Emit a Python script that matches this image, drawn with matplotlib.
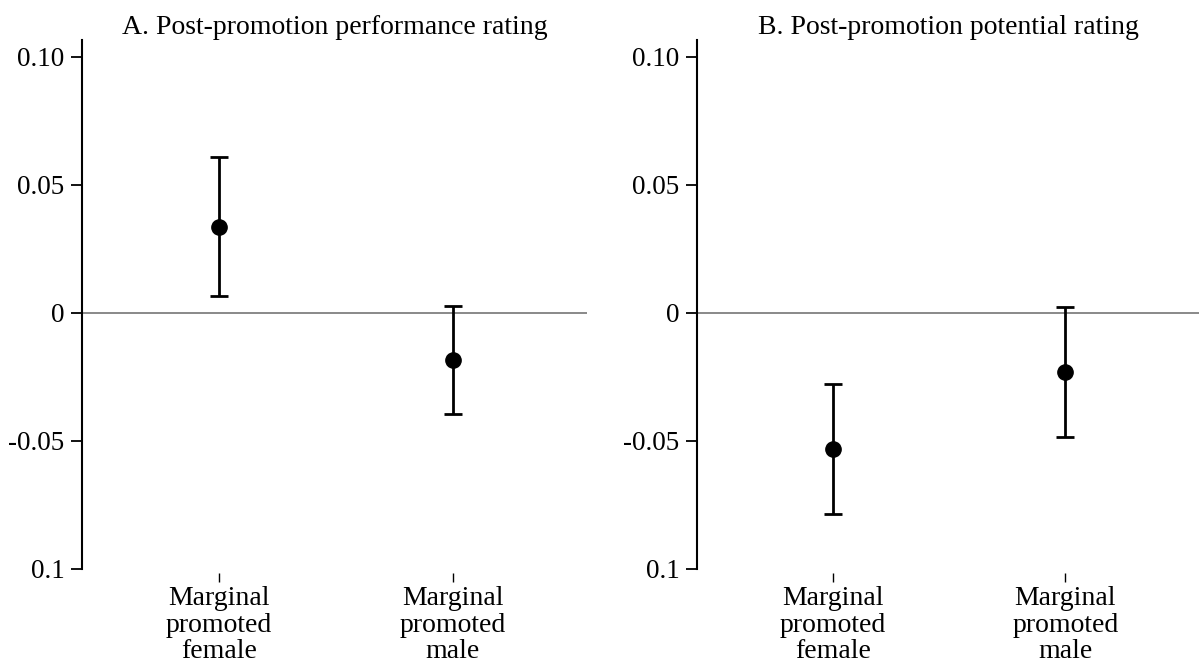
import numpy as np
import matplotlib
matplotlib.use('Agg')
import matplotlib.pyplot as plt

plt.rcParams['font.family'] = ['Liberation Serif', 'DejaVu Serif']

groups = ['Marginal\npromoted\nfemale', 'Marginal\npromoted\nmale']
titles = ['A. Post-promotion performance rating', 'B. Post-promotion potential rating']

# point estimates and confidence bounds
perfEst = [0.0336, -0.0184]
perfLow = [0.0066, -0.0395]
perfHigh = [0.0609, 0.0027]

potEst = [-0.0531, -0.0230]
potLow = [-0.0785, -0.0484]
potHigh = [-0.0277, 0.0023]

yTicks = [0.10, 0.05, 0.0, -0.05, -0.10]
yTickLabels = ['0.10', '0.05', '0', '-0.05', '0.1']


def plotPanel(ax, title, est, low, high):
    x = np.arange(1, len(est) + 1)
    est = np.array(est)
    err = [est - np.array(low), np.array(high) - est]
    ax.axhline(0, color='#808080', lw=1.3, zorder=1)
    ax.errorbar(x, est, yerr=err, fmt='o', color='black', ms=11,
                elinewidth=2, capsize=6.5, capthick=2, zorder=3)
    ax.set_xlim(0.415, 2.575)
    ax.set_ylim(-0.10, 0.1066)
    for s in ['top', 'right']:
        ax.spines[s].set_visible(False)
    ax.spines['bottom'].set_position(('outward', 3))
    ax.spines['bottom'].set_visible(False)
    ax.spines['left'].set_linewidth(1.5)
    ax.set_xticks(x)
    ax.set_xticklabels(groups)
    ax.set_yticks(yTicks)
    ax.set_yticklabels(yTickLabels)
    ax.tick_params(axis='y', direction='out', length=8, width=1.3,
                   pad=4.5, labelsize=19.5)
    ax.tick_params(axis='x', direction='out', length=6.5, width=1,
                   pad=2.5, labelsize=20)
    for lab in ax.get_xticklabels():
        lab.set_linespacing(1.1)
    ax.set_title(title, fontsize=20, pad=4)


fig = plt.figure(figsize=(11.99, 6.72), dpi=100)
ax1 = fig.add_axes([0.0684, 0.1533, 0.4212, 0.7872])
ax2 = fig.add_axes([0.5813, 0.1533, 0.4187, 0.7872])
plotPanel(ax1, titles[0], perfEst, perfLow, perfHigh)
plotPanel(ax2, titles[1], potEst, potLow, potHigh)

fig.savefig('out.png', dpi=100)
